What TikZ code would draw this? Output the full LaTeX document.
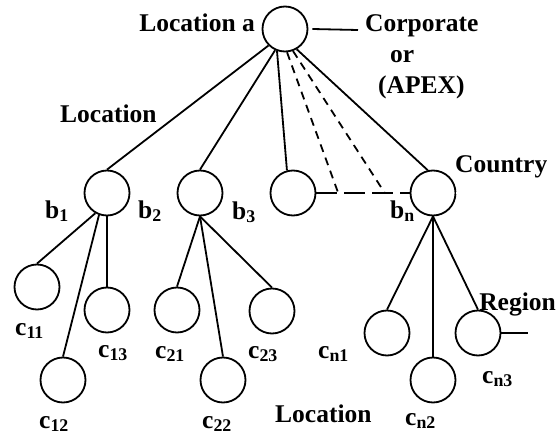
\documentclass[tikz,border=0pt]{standalone}
\usepackage{fontspec}
\setmainfont{Liberation Serif}
\usetikzlibrary{calc}
\begin{document}
\begin{tikzpicture}[x=1pt,y=-1pt,
  site/.style={circle,draw,line width=1.8pt,minimum size=45pt,inner sep=0pt},
  link/.style={line width=1.8pt},
  dlink/.style={line width=1.8pt,dash pattern=on 8pt off 6pt},
  lab/.style={inner sep=0pt,anchor=base west,font=\fontsize{25.5}{30}\selectfont\bfseries},
]
\useasboundingbox (0,0) rectangle (557,436);

% sites
\node[site] (a)   at (285,29)  {};
\node[site] (b1)  at (107,193) {};
\node[site] (b3)  at (200,193) {};
\node[site] (bm)  at (293,193) {};
\node[site] (bn)  at (433,193) {};
\node[site] (c11) at (37,287)  {};
\node[site] (c12) at (63,380)  {};
\node[site] (c13) at (107,310) {};
\node[site] (c21) at (177,310) {};
\node[site] (c22) at (223,380) {};
\node[site] (c23) at (272,311) {};
\node[site] (cn1) at (387,333) {};
\node[site] (cn2) at (433,380) {};
\node[site] (cn3) at (478,333) {};

% free ends
\coordinate (corpEnd) at (358,30);
\coordinate (countryEnd) at (505,193);
\coordinate (regionEnd) at (528,333);

% top level
\draw[link] ([xshift=4pt]a.east) -- (corpEnd);
\draw[link] (a.225) -- (b1.north);
\draw[link] (a.245) -- (b3.north);
\draw[link] (a.250) -- (bm.105);
\draw[link] (a.300) -- (bn.103);

% dashed links to the omitted sites
\draw[line width=2.2pt,dash pattern=on 21pt off 7pt] (bm.east) -- (bn.west);
\coordinate (m1) at ($(bm.east)!0.234!(bn.west)$);
\coordinate (m2) at ($(bm.east)!0.734!(bn.west)$);
\draw[dlink] (a.275) -- (m1);
\draw[dlink] (a.290) -- (m2);

% country level
\draw[gray!70,line width=0.6pt,double=white,double distance=1.6pt] (bn.east) -- (countryEnd);

% branches of b1
\draw[link] (b1.240) -- (c11.north);
\draw[link] (b1.250) -- (c12.north);
\draw[link] (b1.south) -- (c13.north);
% branches of b3
\draw[link] (b3.south) -- (c21.north);
\draw[link] (b3.south) -- (c22.north);
\draw[link] (b3.south) -- (c23.north);
% branches of bn
\draw[link] (bn.south) -- (cn1.north);
\draw[link] (bn.south) -- (cn2.north);
\draw[link] (bn.south) -- (cn3.north);
\draw[link] (cn3.east) -- (regionEnd);

% labels
\node[lab,anchor=base east] (tLa) at (255,32) {Location a};
\node[lab] (tCorp) at (365,32) {Corporate};
\node[lab] (tOr) at (390,63) {or};
\node[lab] (tApex) at (378,93) {(APEX)};
\node[lab] (tLoc1) at (60,122) {Location};
\node[lab] (tCountry) at (455,172) {Country};
\node[lab,anchor=base east] (tRegion) at (556,310) {Region};
\node[lab] (tLoc2) at (275,422) {Location};

\node[lab] (tb1) at (45,218)  {b\textsubscript{1}};
\node[lab] (tb2) at (138,218) {b\textsubscript{2}};
\node[lab] (tb3) at (232,219) {b\textsubscript{3}};
\node[lab] (tbn) at (390,218) {b\textsubscript{n}};

\node[lab] (tc11) at (15,335)  {c\textsubscript{11}};
\node[lab] (tc13) at (98,357)  {c\textsubscript{13}};
\node[lab] (tc12) at (39,428)  {c\textsubscript{12}};
\node[lab] (tc21) at (155,358) {c\textsubscript{21}};
\node[lab] (tc22) at (202,428) {c\textsubscript{22}};
\node[lab] (tc23) at (248,358) {c\textsubscript{23}};
\node[lab] (tcn1) at (318,358) {c\textsubscript{n1}};
\node[lab] (tcn2) at (405,425) {c\textsubscript{n2}};
\node[lab] (tcn3) at (482,383) {c\textsubscript{n3}};
\end{tikzpicture}
\end{document}
